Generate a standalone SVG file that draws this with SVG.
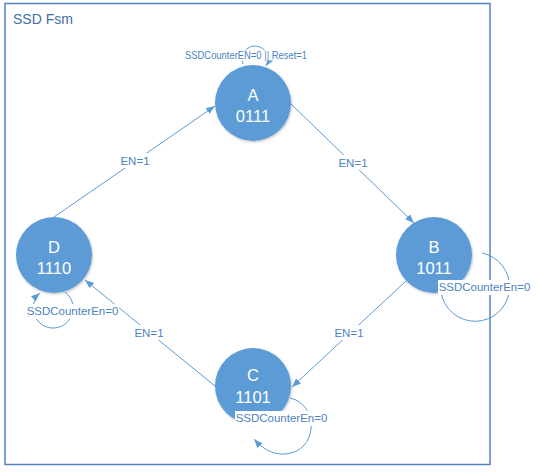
<svg xmlns="http://www.w3.org/2000/svg" width="539" height="474" viewBox="0 0 539 474">
<defs>
<style>
.node circle{fill:#5B9BD5;filter:url(#sh)}
.node text{fill:#fff;font-family:"Liberation Sans",Arial,sans-serif;font-size:16.5px;text-anchor:middle}
.conn path{fill:none;stroke:#5B9BD5;stroke-width:1}
.arr{marker-end:url(#ah)}
.lbl rect{fill:#fff}
.lbl text{fill:#4E82C0;font-family:"Liberation Sans",Arial,sans-serif;font-size:11.5px;text-anchor:middle}
</style>
<marker id="ah" markerUnits="userSpaceOnUse" markerWidth="10" markerHeight="8" refX="9" refY="3.5" orient="auto">
<path d="M0,0 L9,3.5 L0,7 z" fill="#5B9BD5"/>
</marker>
<filter id="sh" x="-20%" y="-20%" width="140%" height="140%">
<feDropShadow dx="0.8" dy="1.2" stdDeviation="1.2" flood-color="#000" flood-opacity="0.25"/>
</filter>
</defs>
<rect width="539" height="474" fill="#fff"/>
<g id="frame">
<rect x="5" y="3.5" width="485" height="461" fill="none" stroke="#5283BE" stroke-width="1.5"/>
<text x="13" y="24" font-family="'Liberation Sans',Arial,sans-serif" font-size="14" fill="#3E6EA5">SSD Fsm</text>
</g>
<g id="connectors" class="conn">
<path class="arr" d="M54,217 L215,106"/>
<path class="arr" d="M291,104 L414,223"/>
<path class="arr" d="M406,281 L292,387"/>
<path class="arr" d="M215,386 L85,280"/>
<path class="arr" d="M243,64 A13 13 0 1 1 266,66"/>
<path d="M482,253 A34.5 34.5 0 1 1 441,292"/>
<path class="arr" d="M65,292 A20 20 0 1 1 40,293"/>
<path class="arr" d="M290,398 C320,405 318,452 285,454 C272,455 262,448 254,439"/>
</g>
<g id="nodeA" class="node"><circle cx="253" cy="103" r="38"/><text x="253" y="101">A</text><text x="253" y="122">0111</text></g>
<g id="nodeB" class="node"><circle cx="434" cy="255" r="38"/><text x="434" y="253">B</text><text x="434" y="274">1011</text></g>
<g id="nodeC" class="node"><circle cx="253" cy="386" r="38"/><text x="253" y="381">C</text><text x="253" y="403">1101</text></g>
<g id="nodeD" class="node"><circle cx="54" cy="255" r="38"/><text x="54" y="253">D</text><text x="54" y="274">1110</text></g>
<g id="labels" class="lbl">
<rect x="120" y="153" width="30" height="15"/><text x="135" y="165">EN=1</text>
<rect x="338" y="155" width="30" height="15"/><text x="353" y="167">EN=1</text>
<rect x="334" y="325" width="30" height="15"/><text x="349" y="337">EN=1</text>
<rect x="134" y="325" width="30" height="15"/><text x="149" y="337">EN=1</text>
<rect x="184" y="50.5" width="124" height="10"/><text x="246" y="59" font-size="10.5" textLength="122" lengthAdjust="spacingAndGlyphs">SSDCounterEN=0 || Reset=1</text>
<rect x="438" y="280" width="93" height="15"/><text x="484.5" y="291">SSDCounterEn=0</text>
<rect x="26" y="304" width="93" height="15"/><text x="72.5" y="315">SSDCounterEn=0</text>
<rect x="235" y="411" width="93" height="15"/><text x="281.5" y="422">SSDCounterEn=0</text>
</g>
</svg>
